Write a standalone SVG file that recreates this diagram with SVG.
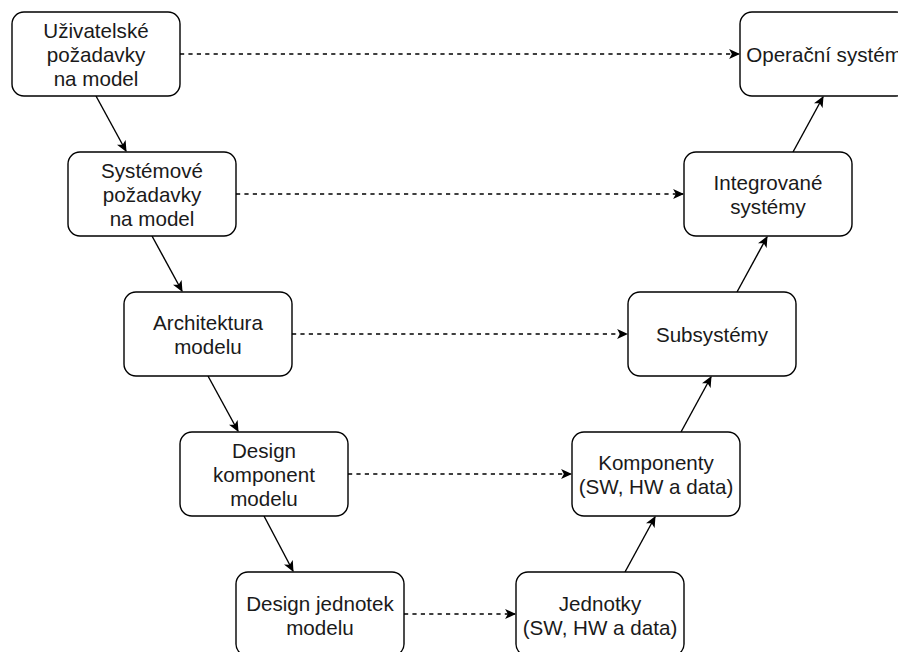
<svg xmlns="http://www.w3.org/2000/svg" width="898" height="652" viewBox="0 0 898 652">
  <style>
    .box rect { fill: #ffffff; stroke: #000000; stroke-width: 1.4; }
    .box text { font-family: "Liberation Sans", Arial, Helvetica, sans-serif; font-size: 20.6px; fill: #1a1a1a; text-anchor: middle; }
    .flow { stroke: #000000; stroke-width: 1.4; fill: none; marker-end: url(#head); }
    .trace { stroke: #000000; stroke-width: 1.4; fill: none; stroke-dasharray: 4.2 4.2; marker-end: url(#head); }
  </style>
  <defs>
    <marker id="head" viewBox="0 0 10 10" refX="9" refY="5" markerWidth="11" markerHeight="11" markerUnits="userSpaceOnUse" orient="auto">
      <path d="M0,0.5 L10,5 L0,9.5 L2.5,5 Z" fill="#000000"/>
    </marker>
  </defs>
  <rect width="898" height="652" fill="#ffffff"/>

  <g id="connectors">
    <!-- left branch, downward -->
    <line class="flow" x1="96" y1="96" x2="126" y2="151"/>
    <line class="flow" x1="152" y1="236" x2="182" y2="291"/>
    <line class="flow" x1="208" y1="376" x2="238" y2="431"/>
    <line class="flow" x1="264" y1="516" x2="293" y2="571"/>
    <!-- right branch, upward -->
    <line class="flow" x1="625" y1="572" x2="655" y2="517"/>
    <line class="flow" x1="681" y1="432" x2="711" y2="377"/>
    <line class="flow" x1="737" y1="292" x2="767" y2="237"/>
    <line class="flow" x1="793" y1="152" x2="823" y2="97"/>
    <!-- horizontal dashed links -->
    <line class="trace" x1="180" y1="54" x2="739" y2="54"/>
    <line class="trace" x1="236" y1="194" x2="683" y2="194"/>
    <line class="trace" x1="292" y1="334" x2="627" y2="334"/>
    <line class="trace" x1="348" y1="474" x2="571" y2="474"/>
    <line class="trace" x1="404" y1="614" x2="515" y2="614"/>
  </g>

  <g id="uzivatelske-pozadavky" class="box">
    <rect x="12" y="12" width="168" height="84" rx="12"/>
    <text x="96" y="38">Uživatelské</text>
    <text x="96" y="62">požadavky</text>
    <text x="96" y="86">na model</text>
  </g>
  <g id="systemove-pozadavky" class="box">
    <rect x="68" y="152" width="168" height="84" rx="12"/>
    <text x="152" y="178">Systémové</text>
    <text x="152" y="202">požadavky</text>
    <text x="152" y="226">na model</text>
  </g>
  <g id="architektura" class="box">
    <rect x="124" y="292" width="168" height="84" rx="12"/>
    <text x="208" y="330">Architektura</text>
    <text x="208" y="354">modelu</text>
  </g>
  <g id="design-komponent" class="box">
    <rect x="180" y="432" width="168" height="84" rx="12"/>
    <text x="264" y="458">Design</text>
    <text x="264" y="482">komponent</text>
    <text x="264" y="506">modelu</text>
  </g>
  <g id="design-jednotek" class="box">
    <rect x="236" y="572" width="168" height="84" rx="12"/>
    <text x="320" y="611">Design jednotek</text>
    <text x="320" y="635">modelu</text>
  </g>
  <g id="jednotky" class="box">
    <rect x="516" y="572" width="168" height="84" rx="12"/>
    <text x="600" y="611">Jednotky</text>
    <text x="600" y="635">(SW, HW a data)</text>
  </g>
  <g id="komponenty" class="box">
    <rect x="572" y="432" width="168" height="84" rx="12"/>
    <text x="656" y="470">Komponenty</text>
    <text x="656" y="494">(SW, HW a data)</text>
  </g>
  <g id="subsystemy" class="box">
    <rect x="628" y="292" width="168" height="84" rx="12"/>
    <text x="712" y="342">Subsystémy</text>
  </g>
  <g id="integrovane-systemy" class="box">
    <rect x="684" y="152" width="168" height="84" rx="12"/>
    <text x="768" y="190">Integrované</text>
    <text x="768" y="214">systémy</text>
  </g>
  <g id="operacni-system" class="box">
    <rect x="740" y="12" width="168" height="84" rx="12"/>
    <text x="824" y="62">Operační systém</text>
  </g>
</svg>
